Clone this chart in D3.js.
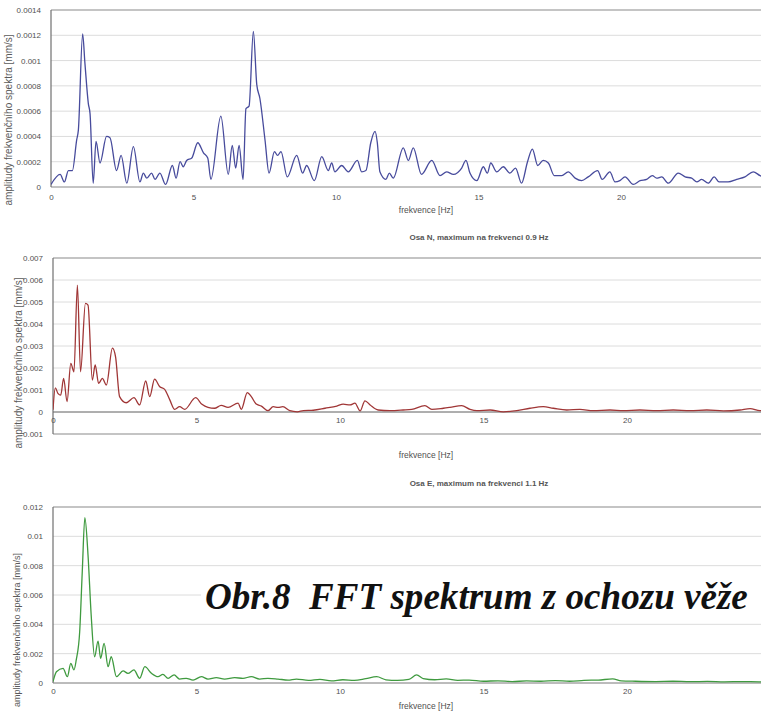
<!DOCTYPE html>
<html>
<head>
<meta charset="utf-8">
<script src="https://cdn.jsdelivr.net/npm/d3@7"></script>
<style>
  html, body { margin: 0; padding: 0; background: #fff; overflow: hidden; }
  svg { display: block; font-family: "Liberation Sans", Arial, sans-serif; }
</style>
</head>
<body>
<svg id="chart" width="761" height="712"></svg>
<script>
// Spectrum, vertical axis (top panel): frequency [Hz] and amplitude [mm/s]
const freqZ = [0.0,0.32,0.47,0.61,0.75,0.9,0.96,1.11,1.19,1.31,1.37,1.48,1.58,1.72,1.95,2.07,2.3,2.46,2.66,2.89,3.12,3.24,3.36,3.53,3.65,3.82,4.02,4.26,4.39,4.53,4.64,4.76,4.94,5.15,5.35,5.5,5.61,5.96,6.22,6.36,6.48,6.6,6.74,6.84,6.95,7.1,7.22,7.33,7.51,7.65,7.84,7.95,8.07,8.29,8.62,8.83,8.97,9.24,9.5,9.73,9.85,9.96,10.2,10.43,10.75,10.9,11.05,11.22,11.37,11.45,11.54,11.75,11.87,12.01,12.36,12.54,12.71,13.0,13.36,13.65,13.88,14.12,14.41,14.56,14.7,14.94,15.17,15.31,15.43,15.64,15.87,16.1,16.3,16.51,16.72,16.89,17.08,17.27,17.45,17.66,17.92,18.15,18.39,18.62,18.85,19.18,19.34,19.61,19.79,19.96,20.14,20.43,20.67,20.9,21.1,21.25,21.43,21.66,22.01,22.25,22.48,22.66,22.83,23.06,23.27,23.44,23.76,24.06,24.35,24.64,24.88,25.0];
const ampZ = [0.00002,0.0001,0.00004,0.00013,0.00013,0.00037,0.00045,0.00121,0.00098,0.00066,0.00058,0.00003,0.00036,0.00019,0.0004,0.00039,0.00013,0.00025,0.00003,0.00032,0.00004,0.00011,0.00007,0.00011,0.00006,0.00011,0.00002,0.00017,0.00007,0.0002,0.00016,0.00021,0.00023,0.00035,0.00027,0.00023,0.00006,0.00056,0.0001,0.00033,0.00015,0.00033,0.00006,0.00062,0.00064,0.00123,0.00081,0.0007,0.00037,0.00011,0.00028,0.00025,0.00028,0.00008,0.00025,0.00011,0.00017,0.00005,0.00024,0.00013,0.00019,0.00012,0.00017,0.00012,0.00021,0.00012,0.00013,0.00035,0.00044,0.00035,0.00012,0.00006,0.00011,0.00007,0.00031,0.00021,0.00031,0.0001,0.00021,0.00009,0.00012,0.0001,0.00015,0.00021,0.00011,0.00005,0.00016,0.00011,0.00019,0.00012,0.00016,0.00011,0.00015,0.00003,0.0002,0.0003,0.00017,0.00021,0.00019,0.00009,0.00009,0.00012,0.00007,0.00005,0.00008,0.00013,0.00006,0.00012,0.00004,0.00005,0.00008,0.00002,0.00005,0.00006,0.00009,0.00007,0.00008,0.00003,0.00011,0.00008,0.00007,0.00004,0.00006,0.00003,0.00008,0.00004,0.00004,0.00006,0.00008,0.00012,0.00009,0.00008];

// Spectrum, axis N
const freqN = [0.0,0.08,0.17,0.27,0.37,0.49,0.62,0.73,0.85,0.96,1.13,1.22,1.37,1.47,1.59,1.72,1.86,2.07,2.18,2.32,2.55,2.82,3.02,3.23,3.37,3.54,3.72,3.89,4.07,4.24,4.41,4.59,4.97,5.19,5.4,5.63,5.86,6.1,6.45,6.56,6.77,6.91,7.08,7.26,7.49,7.67,7.84,8.01,8.25,8.51,8.72,9.07,9.48,9.89,10.11,10.35,10.52,10.7,10.87,11.05,11.33,11.74,12.2,12.5,12.96,13.2,13.6,13.83,14.24,14.53,14.77,15.23,15.69,16.16,16.62,17.08,17.43,17.9,18.36,18.83,19.41,19.87,20.45,21.03,21.61,22.2,22.78,23.36,23.94,24.29,24.63,25.0];
const ampN = [0.0001,0.0011,0.00085,0.00077,0.00153,0.00047,0.00221,0.00183,0.00577,0.00183,0.00494,0.00486,0.00145,0.00214,0.0013,0.00153,0.00123,0.0029,0.00251,0.0007,0.00042,0.00065,0.00032,0.00141,0.0007,0.00149,0.00115,0.00103,0.00055,0.00012,0.00024,0.00012,0.00065,0.00035,0.00021,0.00017,0.0003,0.00021,0.0004,0.00012,0.00088,0.0007,0.00036,0.00027,0.00006,0.00024,0.00021,0.00024,0.00006,0.00001,0.00006,0.00008,0.00017,0.00027,0.00036,0.00032,0.0004,0.00005,0.00051,0.00032,0.00009,0.00006,0.00009,0.00012,0.00029,0.00012,0.00017,0.00021,0.00029,0.00012,0.00006,0.00009,0.00001,0.00006,0.00017,0.00024,0.00017,0.00009,0.00012,0.00006,0.00009,0.00006,0.00009,0.00006,0.00009,0.00006,0.00009,0.00005,0.00009,0.00015,0.00006,0.00008];

// Spectrum, axis E
const freqE = [0.0,0.12,0.35,0.5,0.62,0.73,0.81,0.93,1.02,1.11,1.22,1.33,1.45,1.57,1.66,1.78,1.92,2.03,2.21,2.44,2.61,2.82,3.02,3.2,3.43,3.66,3.83,4.01,4.22,4.41,4.64,4.88,5.17,5.4,5.69,5.98,6.33,6.62,6.91,7.2,7.49,7.84,8.19,8.48,8.9,9.3,9.7,10.1,10.5,10.9,11.28,11.6,12.0,12.4,12.67,12.9,13.3,13.7,14.1,14.5,15.0,15.5,16.0,16.5,17.0,17.5,18.0,18.5,19.0,19.5,19.8,20.3,21.0,21.6,22.2,22.8,23.4,24.0,24.6,25.0];
const ampE = [0.00009,0.00077,0.001,0.00043,0.00134,0.00089,0.00157,0.0035,0.0076,0.01127,0.00873,0.00464,0.00179,0.00286,0.00168,0.0027,0.00111,0.00179,0.00043,0.00082,0.00066,0.00089,0.00032,0.00111,0.00066,0.00043,0.00059,0.00032,0.00055,0.00027,0.00032,0.0002,0.00043,0.00027,0.00036,0.00027,0.00036,0.00032,0.00043,0.00027,0.00032,0.00027,0.0002,0.00027,0.00018,0.00025,0.00015,0.00022,0.00018,0.0003,0.00043,0.00022,0.00018,0.00025,0.00055,0.0003,0.00022,0.00028,0.00018,0.0002,0.00012,0.00015,0.0001,0.00014,0.00012,0.00016,0.00012,0.00018,0.0002,0.00028,0.00015,0.00012,0.0001,0.00012,0.00009,0.00011,0.00008,0.0001,0.00008,0.0001];

// Axis ticks
const xTicks = [0, 5, 10, 15, 20];
const yTicksZ = [0, 0.0002, 0.0004, 0.0006, 0.0008, 0.001, 0.0012, 0.0014];
const yTicksN = [-0.001, 0, 0.001, 0.002, 0.003, 0.004, 0.005, 0.006, 0.007];
const yTicksE = [0, 0.002, 0.004, 0.006, 0.008, 0.01, 0.012];

// Texts
const yTitle = "amplitudy frekvenčního spektra [mm/s]";
const xTitle = "frekvence [Hz]";
const titleN = "Osa N, maximum na frekvenci 0.9 Hz";
const titleE = "Osa E, maximum na frekvenci 1.1 Hz";
const caption = "Obr.8  FFT spektrum z ochozu věže";

const svg = d3.select("#chart");
const fmt = v => d3.format("~g")(v).replace("\u2212", "-");
const SANS = "'Liberation Sans', Arial, sans-serif";

function panel(o) {
  const x = d3.scaleLinear().domain([0, 25]).range([o.left, o.left + 25 * o.pxPerHz]);
  const y = d3.scaleLinear().domain(o.yDomain).range([o.bottom, o.top]);
  const g = svg.append("g");
  const right = 761;

  // horizontal gridlines
  const isFrame = d => d === o.yDomain[1] || (d === o.yDomain[0] && d < 0);
  g.selectAll("line.grid").data(o.yTicks).join("line")
    .attr("x1", o.left).attr("x2", right)
    .attr("y1", d => y(d)).attr("y2", d => y(d))
    .attr("stroke", d => isFrame(d) ? "#c4c4c4" : "#dcdcdc")
    .attr("stroke-width", d => isFrame(d) ? 2 : 1);

  // zero line (x axis)
  g.append("line")
    .attr("x1", o.left).attr("x2", right)
    .attr("y1", y(0)).attr("y2", y(0))
    .attr("stroke", o.zeroColor).attr("stroke-width", 1.2);

  // vertical axis line
  g.append("line")
    .attr("x1", o.left).attr("x2", o.left)
    .attr("y1", o.top).attr("y2", o.bottom)
    .attr("stroke", "#707070").attr("stroke-width", 1.2);

  // y tick labels
  const yAxis = d3.axisLeft(y).tickValues(o.yTicks).tickFormat(fmt).tickSize(0).tickPadding(o.yPad);
  const ya = g.append("g").attr("transform", `translate(${o.left},0)`).call(yAxis);
  ya.select(".domain").remove();
  ya.selectAll("text").attr("font-size", 8).attr("fill", "#505050").attr("font-family", SANS);

  // x tick labels
  const xAxis = d3.axisBottom(x).tickValues(xTicks).tickFormat(d3.format("d")).tickSize(0).tickPadding(0);
  const xa = g.append("g").attr("transform", `translate(0,${o.xLabelY})`).call(xAxis);
  xa.select(".domain").remove();
  xa.selectAll("text").attr("font-size", 8).attr("fill", "#505050")
    .attr("font-family", SANS).attr("dy", "0.35em").attr("y", 0);

  // axis titles
  g.append("text").attr("x", 426).attr("y", o.xTitleY)
    .attr("text-anchor", "middle").attr("font-size", 8.5).attr("fill", "#505050").text(xTitle);
  g.append("text")
    .attr("transform", `translate(${o.yTitleX},${o.yTitleY}) rotate(-90)`)
    .attr("text-anchor", "middle").attr("font-size", o.yTitleSize).attr("fill", "#5a5a5a").text(yTitle);

  if (o.title) {
    g.append("text").attr("x", 479).attr("y", o.titleY)
      .attr("text-anchor", "middle").attr("font-size", 8).attr("font-weight", "bold")
      .attr("fill", "#555").text(o.title);
  }

  // spectrum line
  const clipId = "clip" + o.id;
  svg.append("clipPath").attr("id", clipId).append("rect")
    .attr("x", o.left).attr("y", o.top - 5).attr("width", right - o.left).attr("height", o.bottom - o.top + 10);
  const pts = o.freq.map((f, i) => [f, o.amp[i]]);
  const line = d3.line().x(d => x(d[0])).y(d => y(d[1])).curve(d3.curveMonotoneX);
  g.append("path").datum(pts)
    .attr("clip-path", `url(#${clipId})`)
    .attr("d", line).attr("fill", "none")
    .attr("stroke", o.color).attr("stroke-width", 1.3).attr("stroke-linejoin", "round");
  return { x, y, g };
}

panel({ id: "Z", left: 51, pxPerHz: 28.5, top: 10, bottom: 187, yDomain: [0, 0.0014], yTicks: yTicksZ,
  freq: freqZ, amp: ampZ, color: "#474b9c", zeroColor: "#9a9a9a", yPad: 10,
  xLabelY: 197, xTitleY: 213, yTitleX: 12, yTitleY: 120, yTitleSize: 10 });

panel({ id: "N", left: 53, pxPerHz: 28.7, top: 258, bottom: 434, yDomain: [-0.001, 0.007], yTicks: yTicksN,
  freq: freqN, amp: ampN, color: "#a03636", zeroColor: "#707070", yPad: 10,
  xLabelY: 420, xTitleY: 458, yTitleX: 22, yTitleY: 363, yTitleSize: 10,
  title: titleN, titleY: 240 });

panel({ id: "E", left: 53, pxPerHz: 28.7, top: 507, bottom: 683, yDomain: [0, 0.012], yTicks: yTicksE,
  freq: freqE, amp: ampE, color: "#3f9a3f", zeroColor: "#8a8a8a", yPad: 10,
  xLabelY: 691, xTitleY: 709, yTitleX: 20, yTitleY: 630, yTitleSize: 9,
  title: titleE, titleY: 486 });

// figure caption over the lower panel
const cap = svg.append("g");
const capBox = cap.append("rect").attr("fill", "#fff");
const capText = cap.append("text")
  .attr("x", 205).attr("y", 609)
  .style("font-family", "'Liberation Serif', 'Times New Roman', serif")
  .style("font-style", "italic").style("font-weight", "bold")
  .style("white-space", "pre")
  .attr("font-size", 38).attr("fill", "#111")
  .text(caption);
const targetW = 543;
const w0 = capText.node().getComputedTextLength();
capText.attr("font-size", 38 * targetW / w0);
const bb = capText.node().getBBox();
capBox.attr("x", bb.x - 4).attr("y", bb.y + 4).attr("width", 761 - bb.x + 4).attr("height", bb.height - 8);
</script>
</body>
</html>
